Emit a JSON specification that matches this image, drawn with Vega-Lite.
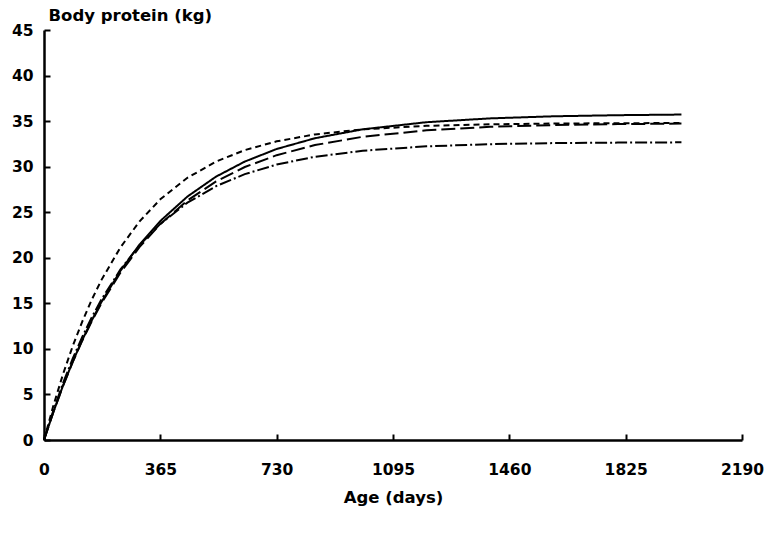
{
  "$schema": "https://vega.github.io/schema/vega-lite/v6.json",
  "autosize": "none",
  "width": 698,
  "height": 410,
  "padding": {"left": 44, "top": 30, "right": 26, "bottom": 95},
  "background": "white",
  "config": {
    "view": {"stroke": null},
    "font": "DejaVu Sans",
    "axis": {
      "domainColor": "black",
      "domainWidth": 2.5,
      "tickColor": "black",
      "tickWidth": 2,
      "grid": false,
      "labelFont": "DejaVu Sans",
      "labelFontSize": 15.5,
      "labelFontWeight": "bold",
      "labelColor": "black",
      "titleFont": "DejaVu Sans",
      "titleFontSize": 16.5,
      "titleFontWeight": "bold",
      "titleColor": "black",
      "format": "d"
    }
  },
  "data": {
    "values": [
      {"day": 0, "solid": 0, "shortdash": 0, "longdash": 0, "dashdot": 0},
      {"day": 30, "solid": 3.13, "shortdash": 3.84, "longdash": 3.12, "dashdot": 3.30},
      {"day": 60, "solid": 5.99, "shortdash": 7.26, "longdash": 5.96, "dashdot": 6.26},
      {"day": 90, "solid": 8.59, "shortdash": 10.30, "longdash": 8.54, "dashdot": 8.92},
      {"day": 120, "solid": 10.97, "shortdash": 13.00, "longdash": 10.90, "dashdot": 11.32},
      {"day": 150, "solid": 13.14, "shortdash": 15.41, "longdash": 13.04, "dashdot": 13.47},
      {"day": 180, "solid": 15.13, "shortdash": 17.55, "longdash": 14.99, "dashdot": 15.41},
      {"day": 240, "solid": 18.58, "shortdash": 21.15, "longdash": 18.38, "dashdot": 18.72},
      {"day": 300, "solid": 21.46, "shortdash": 24.00, "longdash": 21.19, "dashdot": 21.39},
      {"day": 365, "solid": 24.04, "shortdash": 26.42, "longdash": 23.70, "dashdot": 23.72},
      {"day": 450, "solid": 26.72, "shortdash": 28.78, "longdash": 26.29, "dashdot": 26.05},
      {"day": 540, "solid": 28.91, "shortdash": 30.56, "longdash": 28.38, "dashdot": 27.86},
      {"day": 630, "solid": 30.56, "shortdash": 31.82, "longdash": 29.96, "dashdot": 29.18},
      {"day": 730, "solid": 31.94, "shortdash": 32.78, "longdash": 31.26, "dashdot": 30.23},
      {"day": 850, "solid": 33.12, "shortdash": 33.54, "longdash": 32.37, "dashdot": 31.09},
      {"day": 1000, "solid": 34.10, "shortdash": 34.10, "longdash": 33.28, "dashdot": 31.75},
      {"day": 1200, "solid": 34.88, "shortdash": 34.48, "longdash": 33.99, "dashdot": 32.23},
      {"day": 1400, "solid": 35.30, "shortdash": 34.65, "longdash": 34.37, "dashdot": 32.47},
      {"day": 1600, "solid": 35.53, "shortdash": 34.73, "longdash": 34.57, "dashdot": 32.59},
      {"day": 1800, "solid": 35.65, "shortdash": 34.77, "longdash": 34.67, "dashdot": 32.64},
      {"day": 2000, "solid": 35.72, "shortdash": 34.79, "longdash": 34.73, "dashdot": 32.67}
    ]
  },
  "transform": [
    {"fold": ["solid", "shortdash", "longdash", "dashdot"], "as": ["series", "protein"]}
  ],
  "mark": {"type": "line", "color": "black", "strokeWidth": 2, "clip": false},
  "encoding": {
    "x": {
      "field": "day",
      "type": "quantitative",
      "scale": {"domain": [0, 2190], "nice": false, "zero": true},
      "axis": {
        "values": [0, 365, 730, 1095, 1460, 1825, 2190],
        "title": "Age (days)",
        "tickSize": -6,
        "labelPadding": 28,
        "labelFlush": false,
        "titleY": 57,
        "titleBaseline": "middle"
      }
    },
    "y": {
      "field": "protein",
      "type": "quantitative",
      "scale": {"domain": [0, 45], "nice": false},
      "axis": {
        "values": [0, 5, 10, 15, 20, 25, 30, 35, 40, 45],
        "title": "Body protein (kg)",
        "titleAngle": 0,
        "titleAlign": "left",
        "titleBaseline": "middle",
        "titleX": 4,
        "titleY": -15,
        "tickSize": -6,
        "labelPadding": 17,
        "labelFlush": false
      }
    },
    "strokeDash": {
      "field": "series",
      "type": "nominal",
      "scale": {
        "domain": ["solid", "shortdash", "longdash", "dashdot"],
        "range": [[1, 0], [6, 4], [14, 5], [12, 3, 2, 3]]
      },
      "legend": null
    },
    "detail": {"field": "series"}
  }
}
